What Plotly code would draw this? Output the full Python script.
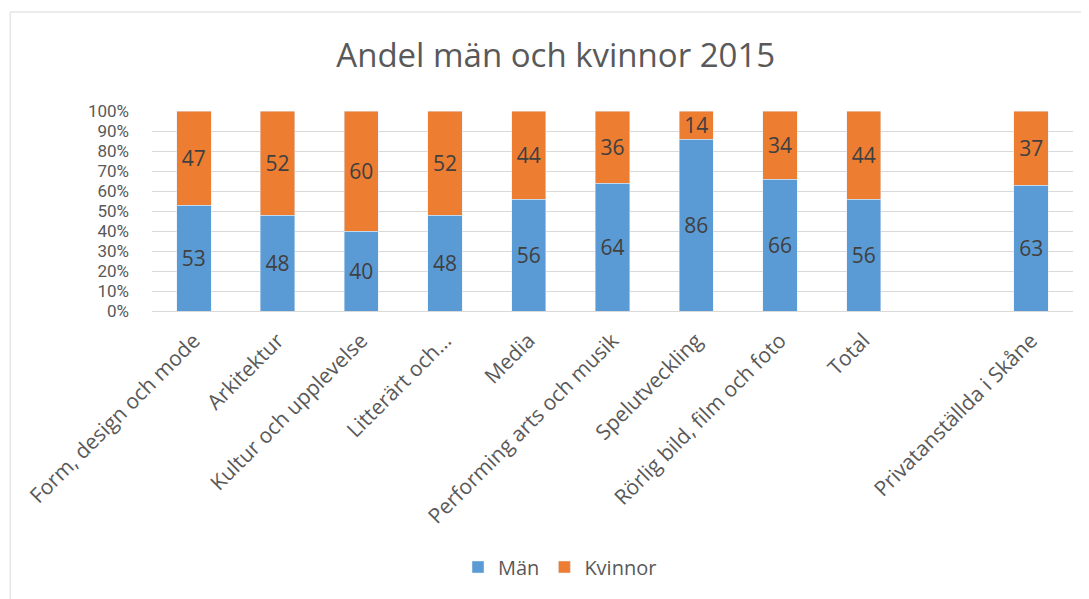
import plotly.graph_objects as go

categories = ["Form, design och mode", "Arkitektur", "Kultur och upplevelse", "Litterärt och…",
              "Media", "Performing arts och musik", "Spelutveckling", "Rörlig bild, film och foto",
              "Total", " ", "Privatanställda i Skåne"]
man = [53, 48, 40, 48, 56, 64, 86, 66, 56, None, 63]
kvinnor = [47, 52, 60, 52, 44, 36, 14, 34, 44, None, 37]
y_ticks = [0, 10, 20, 30, 40, 50, 60, 70, 80, 90, 100]
y_ticktext = [f"{v}%" for v in y_ticks]

FONT = "Open Sans"
GREY = "#595959"

fig = go.Figure()
fig.add_trace(go.Bar(name="Män", x=categories, y=man, text=man, texttemplate="%{text}",
                     textposition="inside", insidetextanchor="middle", textangle=0,
                     constraintext="none",
                     marker=dict(color="#5B9BD5"),
                     textfont=dict(family=FONT, size=21, color="#404040")))
fig.add_trace(go.Bar(name="Kvinnor", x=categories, y=kvinnor, text=kvinnor, texttemplate="%{text}",
                     textposition="inside", insidetextanchor="middle", textangle=0,
                     constraintext="none",
                     marker=dict(color="#ED7D31"),
                     textfont=dict(family=FONT, size=21, color="#404040")))

fig.update_layout(
    barmode="stack", barnorm="percent", bargap=0.59,
    width=1089, height=599,
    margin=dict(l=144, r=24, t=103, b=296),
    paper_bgcolor="white", plot_bgcolor="white",
    title=dict(text="Andel män och kvinnor 2015", x=0.503, xref="container", xanchor="center",
               y=0.92, yref="container", yanchor="middle",
               font=dict(family=FONT, size=33, color=GREY)),
    legend=dict(orientation="h", x=0.443, xanchor="center", y=-1.28, yanchor="middle",
                font=dict(family=FONT, size=20, color=GREY), traceorder="normal"),
    font=dict(family=FONT, color=GREY),
)
fig.update_xaxes(type="category", tickangle=-45, tickfont=dict(family=FONT, size=21, color=GREY),
                 showline=True, linecolor="#D9D9D9", linewidth=1, showgrid=False, ticks="",
                 ticklabelstandoff=8)
fig.update_yaxes(range=[0, 100], tickvals=y_ticks, ticktext=y_ticktext,
                 tickfont=dict(family="Roboto", size=17, color=GREY),
                 showgrid=True, gridcolor="#D9D9D9", gridwidth=1, zeroline=False, ticks="",
                 ticklabelstandoff=22)

fig.add_shape(type="rect", xref="paper", yref="paper", x0=-0.154, x1=1.05, y0=-1.6, y1=1.495,
              line=dict(color="#D9D9D9", width=1), fillcolor="rgba(0,0,0,0)", layer="below")

fig.write_html("out.html")
